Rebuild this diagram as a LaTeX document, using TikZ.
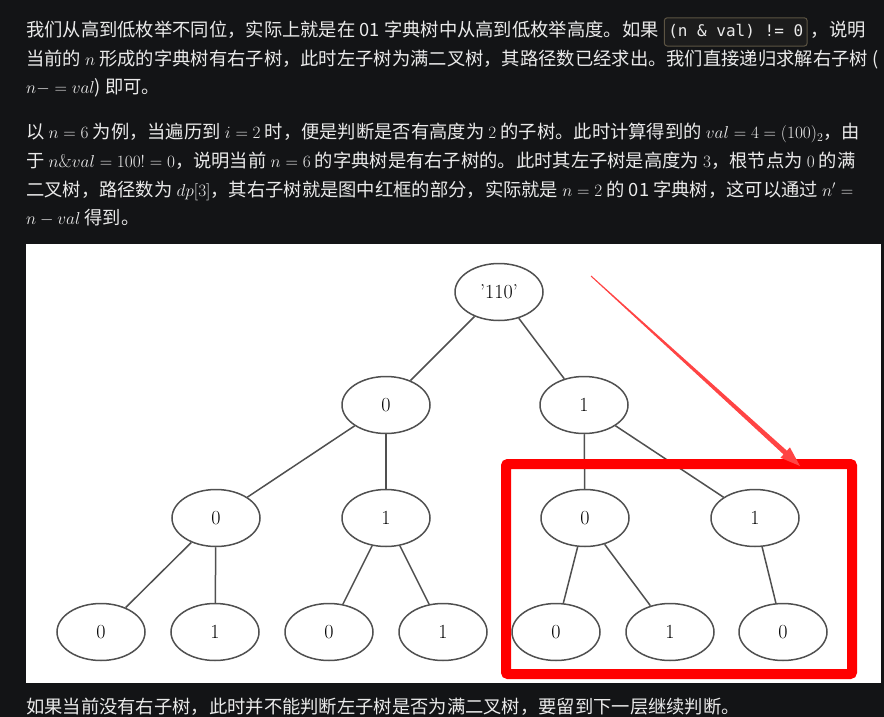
\documentclass[tikz,border=0pt]{standalone}
\usepackage{fontspec}
\usepackage{amsmath}
\usetikzlibrary{shapes.geometric}
\usetikzlibrary{calc}
\newfontfamily\cjk{Noto Sans CJK SC}
\newfontfamily\codefont{DejaVu Sans Mono}
\definecolor{pagebg}{HTML}{131416}
\definecolor{bodytext}{HTML}{EAEAEA}
\definecolor{codeborder}{HTML}{5C5443}
\definecolor{codebg}{HTML}{1C1C1C}
\definecolor{treeline}{HTML}{505050}
\definecolor{arrowred}{HTML}{FF4444}
\tikzset{
  textline/.style={anchor=base west, inner sep=0pt, text=bodytext, font=\cjk\fontsize{18.3}{18.3}\selectfont},
  codebox/.style={anchor=base west, draw=codeborder, fill=codebg, rounded corners=3pt, line width=1pt, inner xsep=4pt, inner ysep=7pt, text=bodytext, font=\codefont\fontsize{16}{16}\selectfont},
  trienode/.style={draw=treeline, ellipse, line width=1.5pt, minimum width=88pt, minimum height=57pt, inner sep=0pt, font=\fontsize{20}{20}\selectfont},
  trieedge/.style={draw=treeline, line width=1.5pt}
}
\begin{document}
\begin{tikzpicture}[x=1pt,y=-1pt]
          % page
          \fill[pagebg] (0,0) rectangle (884,717);
          \useasboundingbox (0,0) rectangle (884,717);
          % first paragraph
          \node[textline] (p1a) at (26,37) {我们从高到低枚举不同位，实际上就是在 01 字典树中从高到低枚举高度。如果};
          \node[codebox] (code) at ([xshift=5pt]p1a.base east) {(n \& val) != 0};
          \node[textline] (p1b) at ([xshift=3pt]code.base east) {，说明};
          \node[textline] (p1c) at (26,65.5) {当前的 $n$ 形成的字典树有右子树，此时左子树为满二叉树，其路径数已经求出。我们直接递归求解右子树 (};
          \node[textline] (p1d) at (26,94) {$n-=val$) 即可。};
          % second paragraph
          \node[textline] (p2a) at (26,139) {以 $n=6$ 为例，当遍历到 $i=2$ 时，便是判断是否有高度为 $2$ 的子树。此时计算得到的 $val=4=(100)_2$，由};
          \node[textline] (p2b) at (26,167.5) {于 $n\&val=100!=0$，说明当前 $n=6$ 的字典树是有右子树的。此时其左子树是高度为 $3$，根节点为 $0$ 的满};
          \node[textline] (p2c) at (26,196) {二叉树，路径数为 $dp[3]$，其右子树就是图中红框的部分，实际就是 $n=2$ 的 01 字典树，这可以通过 $n'=$};
          \node[textline] (p2d) at (26,224.5) {$n-val$ 得到。};
          % last line
          \node[textline] (p3) at (26,713) {如果当前没有右子树，此时并不能判断左子树是否为满二叉树，要留到下一层继续判断。};
          % picture
          \fill[white] (26,244) rectangle (881,683);
          % trie
          \node[trienode] (root) at (499,292) {'110'};
          \node[trienode] (a0) at (386,405) {0};
          \node[trienode] (a1) at (584,405) {1};
          \node[trienode] (b0) at (216,518) {0};
          \node[trienode] (b1) at (386,518) {1};
          \node[trienode] (b2) at (585,518) {0};
          \node[trienode] (b3) at (755,518) {1};
          \node[trienode] (c0) at (101,632) {0};
          \node[trienode] (c1) at (215,632) {1};
          \node[trienode] (c2) at (329,632) {0};
          \node[trienode] (c3) at (443,632) {1};
          \node[trienode] (c4) at (556,632) {0};
          \node[trienode] (c5) at (670,632) {1};
          \node[trienode] (c6) at (783,632) {0};
          % edges
          \draw[trieedge] (root) -- (a0);
          \draw[trieedge] (root) -- (a1);
          \draw[trieedge] (a0) -- (b0);
          \draw[trieedge] (a0) -- (b1);
          \draw[trieedge] (a1) -- (b2);
          \draw[trieedge] (a1) -- (b3);
          \draw[trieedge] (b0) -- (c0);
          \draw[trieedge] (b0) -- (c1);
          \draw[trieedge] (b1) -- (c2);
          \draw[trieedge] (b1) -- (c3);
          \draw[trieedge] (b2) -- (c4);
          \draw[trieedge] (b2) -- (c5);
          \draw[trieedge] (b3) -- (c6);
          % red frame
          \draw[red, line width=10pt, rounded corners=2pt] (506,464) rectangle (852,674);
          % red arrow
          \coordinate (tailpt) at (591,276);
          \coordinate (tippt) at (800,466);
          \coordinate (headbase) at ($(tippt)!20pt!(tailpt)$);
          \fill[arrowred] ($(tailpt)!0.5pt!90:(tippt)$) -- ($(headbase)!2.5pt!90:(tippt)$) -- ($(headbase)!7pt!90:(tippt)$) -- (tippt)
            -- ($(headbase)!7pt!-90:(tippt)$) -- ($(headbase)!2.5pt!-90:(tippt)$) -- ($(tailpt)!0.5pt!-90:(tippt)$) -- cycle;
        \end{tikzpicture}
\end{document}
